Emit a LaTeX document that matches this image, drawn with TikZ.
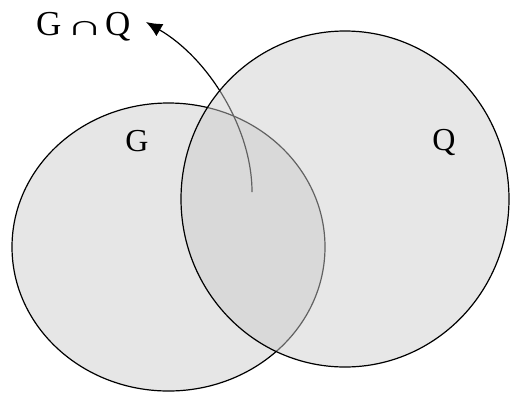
\documentclass[tikz,border=0pt]{standalone}
\usepackage{fontspec}
\usepackage{graphicx}
\setmainfont{Liberation Serif}
\usetikzlibrary{arrows.meta,shapes.geometric}
\definecolor{gfill}{gray}{0.902}
\definecolor{qfill}{gray}{0.80}
\tikzset{
  setshape/.style={ellipse, draw=black, line width=1.2pt, inner sep=0pt},
  setlabel/.style={font=\fontsize{32}{36}\selectfont, inner sep=0pt},
  toplabel/.style={font=\fontsize{35}{40}\selectfont, inner sep=0pt},
  pointer/.style={line width=1.2pt, -{Latex[length=16pt,width=14pt]}}
}
\begin{document}
\begin{tikzpicture}[x=1pt,y=-1pt]
\useasboundingbox (0,0) rectangle (510,394);
\node[setshape, fill=gfill, minimum width=313pt, minimum height=288pt] (G) at (168.5,247) {};
\coordinate (s) at (252,192);
\coordinate (t) at (146,22);
\draw[pointer] (s) .. controls (252,128) and (208,58) .. (t);
\node[setshape, fill=qfill, fill opacity=0.48, minimum width=328pt, minimum height=336pt] (Q) at (345,199) {};
\node[toplabel, anchor=base west] (lbl) at (36,35) {G\hspace{5pt}\scalebox{1.45}[0.8]{∩}\hspace{2pt}Q};
\node[setlabel] (gl) at (137,141) {G};
\node[setlabel] (ql) at (444,142) {Q};
\end{tikzpicture}
\end{document}
